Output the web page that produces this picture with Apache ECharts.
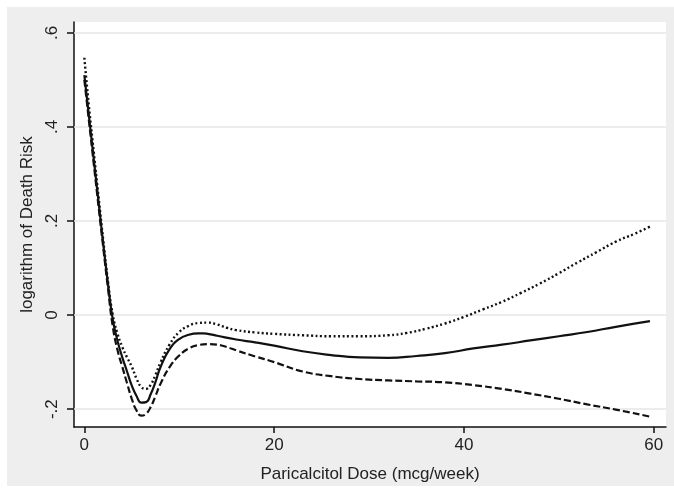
<!DOCTYPE html>
<html>
<head>
<meta charset="utf-8">
<script src="https://cdn.jsdelivr.net/npm/echarts@6/dist/echarts.min.js"></script>
<style>
html,body{margin:0;padding:0;background:#fff;}
#c{width:674px;height:490px;}
</style>
</head>
<body>
<div id="c"></div>
<script>
// Dose (mcg/week) and log death risk
const estX = [0,0.5,1,1.5,2,2.5,3,3.5,4,4.5,5,5.5,6,6.5,7,7.5,8,9,10,11,12,12.5,13,14,16,18,20,23,26,29,32,35,38,41,44,47,50,53,56,59.6];
const estY = [0.51,0.42,0.33,0.24,0.15,0.065,-0.01,-0.055,-0.09,-0.12,-0.15,-0.172,-0.186,-0.185,-0.168,-0.142,-0.112,-0.072,-0.051,-0.042,-0.039,-0.039,-0.04,-0.044,-0.052,-0.058,-0.065,-0.077,-0.085,-0.09,-0.091,-0.087,-0.081,-0.071,-0.063,-0.054,-0.045,-0.036,-0.025,-0.013];

const upX = [0,0.5,1,1.5,2,2.5,3,3.5,4,4.5,5,5.5,6,6.5,7,7.5,8,9,10,11,12,13,14,15,16,18,20,23,26,29,32,34,36,38,40,42,44,46,48,50,52,54,56,58,59.6];
const upY = [0.547,0.44,0.345,0.25,0.158,0.07,0.0,-0.04,-0.068,-0.09,-0.11,-0.135,-0.153,-0.157,-0.148,-0.127,-0.102,-0.062,-0.036,-0.023,-0.017,-0.016,-0.02,-0.027,-0.032,-0.037,-0.04,-0.043,-0.045,-0.045,-0.043,-0.038,-0.029,-0.018,-0.004,0.012,0.028,0.047,0.067,0.089,0.112,0.134,0.156,0.173,0.188];

const loX = [0,0.5,1,1.5,2,2.5,3,3.5,4,4.5,5,5.5,6,6.5,7,7.5,8,9,10,11,12,13,14,15,16,18,20,23,26,29,32,35,38,41,44,47,50,53,56,59.6];
const loY = [0.50,0.41,0.32,0.23,0.142,0.055,-0.025,-0.075,-0.11,-0.145,-0.178,-0.203,-0.214,-0.21,-0.195,-0.172,-0.147,-0.11,-0.086,-0.071,-0.064,-0.062,-0.063,-0.068,-0.075,-0.088,-0.1,-0.12,-0.13,-0.136,-0.139,-0.141,-0.143,-0.149,-0.157,-0.167,-0.178,-0.19,-0.201,-0.216];

const xTicks = [0,20,40,60];
const yTicks = [-0.2,0,0.2,0.4,0.6];

const xTitle = 'Paricalcitol Dose (mcg/week)';
const yTitle = 'logarithm of Death Risk';

const zip = (a,b) => a.map((v,i)=>[v,b[i]]);
const fmtY = v => {
  if (Math.abs(v) < 1e-9) return '0';
  const s = String(Math.round(Math.abs(v)*10)/10).replace(/^0/, '');
  return (v < 0 ? '-' : '') + s;
};

const FONT = '"Liberation Sans", Arial, Helvetica, sans-serif';
const chart = echarts.init(document.getElementById('c'), null, {renderer:'canvas'});

const lineBase = {type:'line', showSymbol:false, symbol:'none', smooth:0.5, silent:true, z:5};

chart.setOption({
  animation:false,
  backgroundColor:'#ffffff',
  graphic:[{
    type:'rect', z:-10, silent:true,
    shape:{x:7, y:7, width:667, height:479},
    style:{fill:'#eeeeee'}
  }],
  grid:{left:74, right:8, top:22, bottom:63, show:true, backgroundColor:'#ffffff', borderWidth:0},
  xAxis:{
    type:'value', min:-1.09, max:61.29,
    name:xTitle, nameLocation:'middle', nameGap:39,
    nameTextStyle:{fontFamily:FONT, fontSize:17, color:'#222'},
    axisLine:{show:true, onZero:false, lineStyle:{color:'#111', width:1.5}},
    axisTick:{show:true, inside:false, length:6, customValues:xTicks, lineStyle:{color:'#111', width:1.5}},
    axisLabel:{customValues:xTicks, margin:10, fontFamily:FONT, fontSize:17, color:'#222'},
    splitLine:{show:false}
  },
  yAxis:{
    type:'value', min:-0.238, max:0.623,
    name:yTitle, nameLocation:'middle', nameGap:28, nameRotate:90,
    nameTextStyle:{fontFamily:FONT, fontSize:17, color:'#222'},
    axisLine:{show:true, onZero:false, lineStyle:{color:'#111', width:1.5}},
    axisTick:{show:true, inside:false, length:7, customValues:yTicks, lineStyle:{color:'#111', width:1.5}},
    axisLabel:{customValues:yTicks, rotate:90, margin:13, fontFamily:FONT, fontSize:17, color:'#222', formatter:fmtY},
    splitLine:{show:false}
  },
  series:[
    {
      type:'line', data:[], silent:true,
      markLine:{
        silent:true, symbol:'none', animation:false,
        label:{show:false},
        lineStyle:{color:'#e6e6e6', width:1.5, type:'solid'},
        data: yTicks.map(v=>({yAxis:v}))
      }
    },
    Object.assign({}, lineBase, {name:'upper', data:zip(upX,upY), lineStyle:{color:'#111', width:2.4, type:[2,2.5]}}),
    Object.assign({}, lineBase, {name:'lower', data:zip(loX,loY), lineStyle:{color:'#111', width:2.2, type:[7,3]}}),
    Object.assign({}, lineBase, {name:'estimate', data:zip(estX,estY), lineStyle:{color:'#111', width:2.2}})
  ]
});
</script>
</body>
</html>
